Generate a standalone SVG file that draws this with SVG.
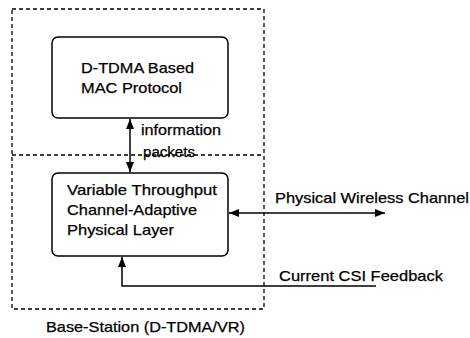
<svg xmlns="http://www.w3.org/2000/svg" width="470" height="338" viewBox="0 0 470 338">
<style>
text{font-family:"Liberation Sans",Arial,Helvetica,sans-serif;font-size:15px;fill:#000;stroke:#000;stroke-width:0.25}
.dash{fill:none;stroke:#000;stroke-width:1.3;stroke-dasharray:4 3}
.box{fill:#fff;stroke:#000;stroke-width:1.5}
.line{fill:none;stroke:#000;stroke-width:1.5}
</style>
<defs>
<marker id="ah" viewBox="0 0 10 8" refX="10" refY="4" markerWidth="10" markerHeight="8" markerUnits="userSpaceOnUse" orient="auto-start-reverse">
<path d="M0,0 L10,4 L0,8 Z" fill="#000"/>
</marker>
</defs>
<g id="basestation">
<rect class="dash" x="12" y="9" width="252" height="300"/>
<line class="dash" x1="12" y1="155" x2="264" y2="155"/>
<text x="46" y="332" textLength="199" lengthAdjust="spacingAndGlyphs">Base-Station (D-TDMA/VR)</text>
</g>
<g id="mac">
<rect class="box" x="52" y="37" width="176" height="81" rx="6"/>
<text x="81" y="73" textLength="113" lengthAdjust="spacingAndGlyphs">D-TDMA Based</text>
<text x="81" y="93" textLength="101" lengthAdjust="spacingAndGlyphs">MAC Protocol</text>
</g>
<g id="phy">
<rect class="box" x="52" y="173" width="176" height="83" rx="6"/>
<text x="67" y="195" textLength="150" lengthAdjust="spacingAndGlyphs">Variable Throughput</text>
<text x="67" y="215" textLength="130" lengthAdjust="spacingAndGlyphs">Channel-Adaptive</text>
<text x="67" y="235" textLength="107" lengthAdjust="spacingAndGlyphs">Physical Layer</text>
</g>
<g id="connectors">
<line class="line" x1="130" y1="119" x2="130" y2="172" marker-start="url(#ah)" marker-end="url(#ah)"/>
<line class="line" x1="229" y1="213" x2="385" y2="213" marker-start="url(#ah)" marker-end="url(#ah)"/>
<polyline class="line" points="376,286 122,286 122,257" marker-end="url(#ah)"/>
</g>
<g id="labels">
<text x="141" y="135" textLength="80" lengthAdjust="spacingAndGlyphs">information</text>
<text x="143" y="157" textLength="52" lengthAdjust="spacingAndGlyphs">packets</text>
<text x="275" y="203" textLength="194" lengthAdjust="spacingAndGlyphs">Physical Wireless Channel</text>
<text x="279" y="281" textLength="164" lengthAdjust="spacingAndGlyphs">Current CSI Feedback</text>
</g>
</svg>
